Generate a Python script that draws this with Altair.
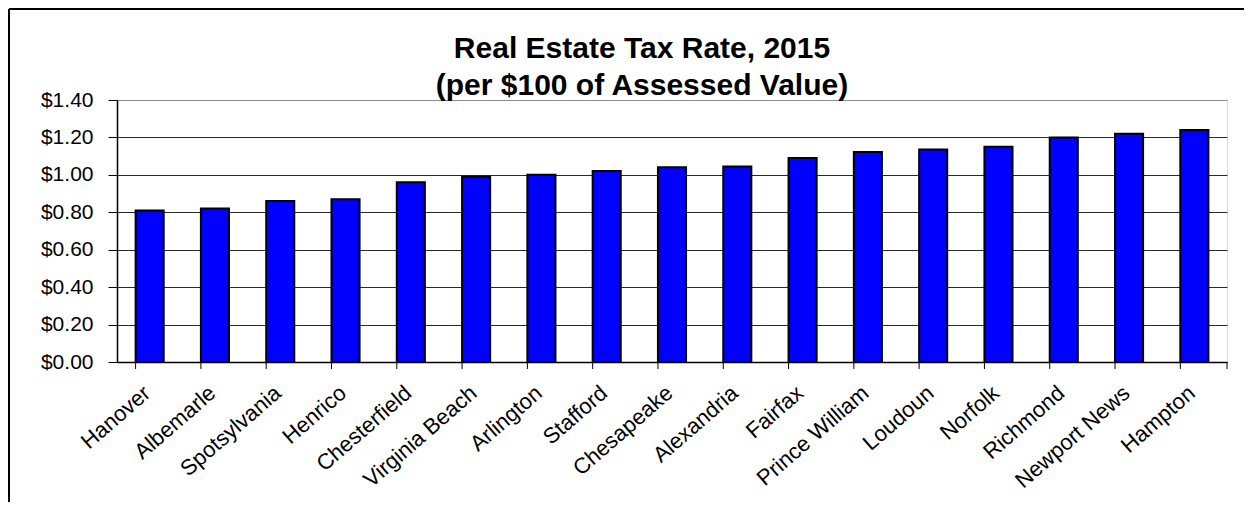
import altair as alt
import pandas as pd

categories = ["Hanover", "Albemarle", "Spotsylvania", "Henrico", "Chesterfield",
              "Virginia Beach", "Arlington", "Stafford", "Chesapeake", "Alexandria",
              "Fairfax", "Prince William", "Loudoun", "Norfolk", "Richmond",
              "Newport News", "Hampton"]
rates = [0.81, 0.82, 0.86, 0.87, 0.96, 0.99, 1.00, 1.02, 1.04, 1.045,
         1.09, 1.122, 1.135, 1.15, 1.20, 1.22, 1.24]
y_ticks = [0.0, 0.2, 0.4, 0.6, 0.8, 1.0, 1.2, 1.4]
title_lines = ["Real Estate Tax Rate, 2015", "(per $100 of Assessed Value)"]

df = pd.DataFrame({"county": categories, "rate": rates})
one = pd.DataFrame({"a": [0]})

W, H = 1110, 262
FONT = "Liberation Sans"

xscale = alt.Scale(paddingInner=0.57, paddingOuter=0.285)

bars = alt.Chart(df).mark_bar(color="#0000FF", stroke="black", strokeWidth=2).encode(
    x=alt.X("county:N", sort=categories, scale=xscale,
            axis=alt.Axis(title=None, labelAngle=-41, labelFontSize=22, labelFont=FONT,
                          labelColor="black", labelAlign="right", labelBaseline="top",
                          labelOffset=-9, ticks=False, domainColor="black",
                          domainWidth=1.5, labelPadding=20)),
    y=alt.Y("rate:Q", scale=alt.Scale(domain=[0, 1.4], nice=False),
            axis=alt.Axis(title=None, values=y_ticks, format="$.2f", labelFontSize=21,
                          labelFont=FONT, labelColor="black", tickSize=9,
                          tickColor="black", domainColor="black", domainWidth=1.5,
                          gridColor=alt.condition("datum.value >= 1.39",
                                                  alt.value("#8c8c8c"),
                                                  alt.value("#2a2a2a")),
                          gridWidth=1, labelPadding=15)),
)

xticks = alt.Chart(df).mark_rule(color="black", strokeWidth=1).encode(
    x=alt.X("county:N", sort=categories, bandPosition=0, scale=xscale),
    y=alt.value(H), y2=alt.value(H + 7),
)
last_tick = alt.Chart(one).mark_rule(color="black", strokeWidth=1).encode(
    x=alt.value(W), y=alt.value(H), y2=alt.value(H + 7)
)

title1 = alt.Chart(one).mark_text(
    text=title_lines[0], font=FONT, fontSize=30, fontWeight="bold", color="black",
    align="center", baseline="alphabetic"
).encode(x=alt.value(525), y=alt.value(-42))
title2 = alt.Chart(one).mark_text(
    text=title_lines[1], font=FONT, fontSize=30, fontWeight="bold", color="black",
    align="center", baseline="alphabetic"
).encode(x=alt.value(525), y=alt.value(-5))

border_top = alt.Chart(one).mark_rule(color="black", strokeWidth=2).encode(
    x=alt.value(-108), x2=alt.value(W + 40), y=alt.value(-91)
)
border_left = alt.Chart(one).mark_rule(color="black", strokeWidth=2).encode(
    x=alt.value(-108), y=alt.value(-91), y2=alt.value(H + 200)
)

chart = alt.layer(bars, xticks, last_tick, title1, title2, border_top, border_left).properties(
    width=W, height=H,
    autosize=alt.AutoSizeParams(type="none"),
    padding={"left": 109, "top": 92, "right": 17, "bottom": 140},
).configure_view(
    fill="#C0C0C0", stroke="#8c8c8c", strokeWidth=1.5
).configure(background="white")

chart.save("out.html", embed_options={"renderer": "svg", "actions": False})
